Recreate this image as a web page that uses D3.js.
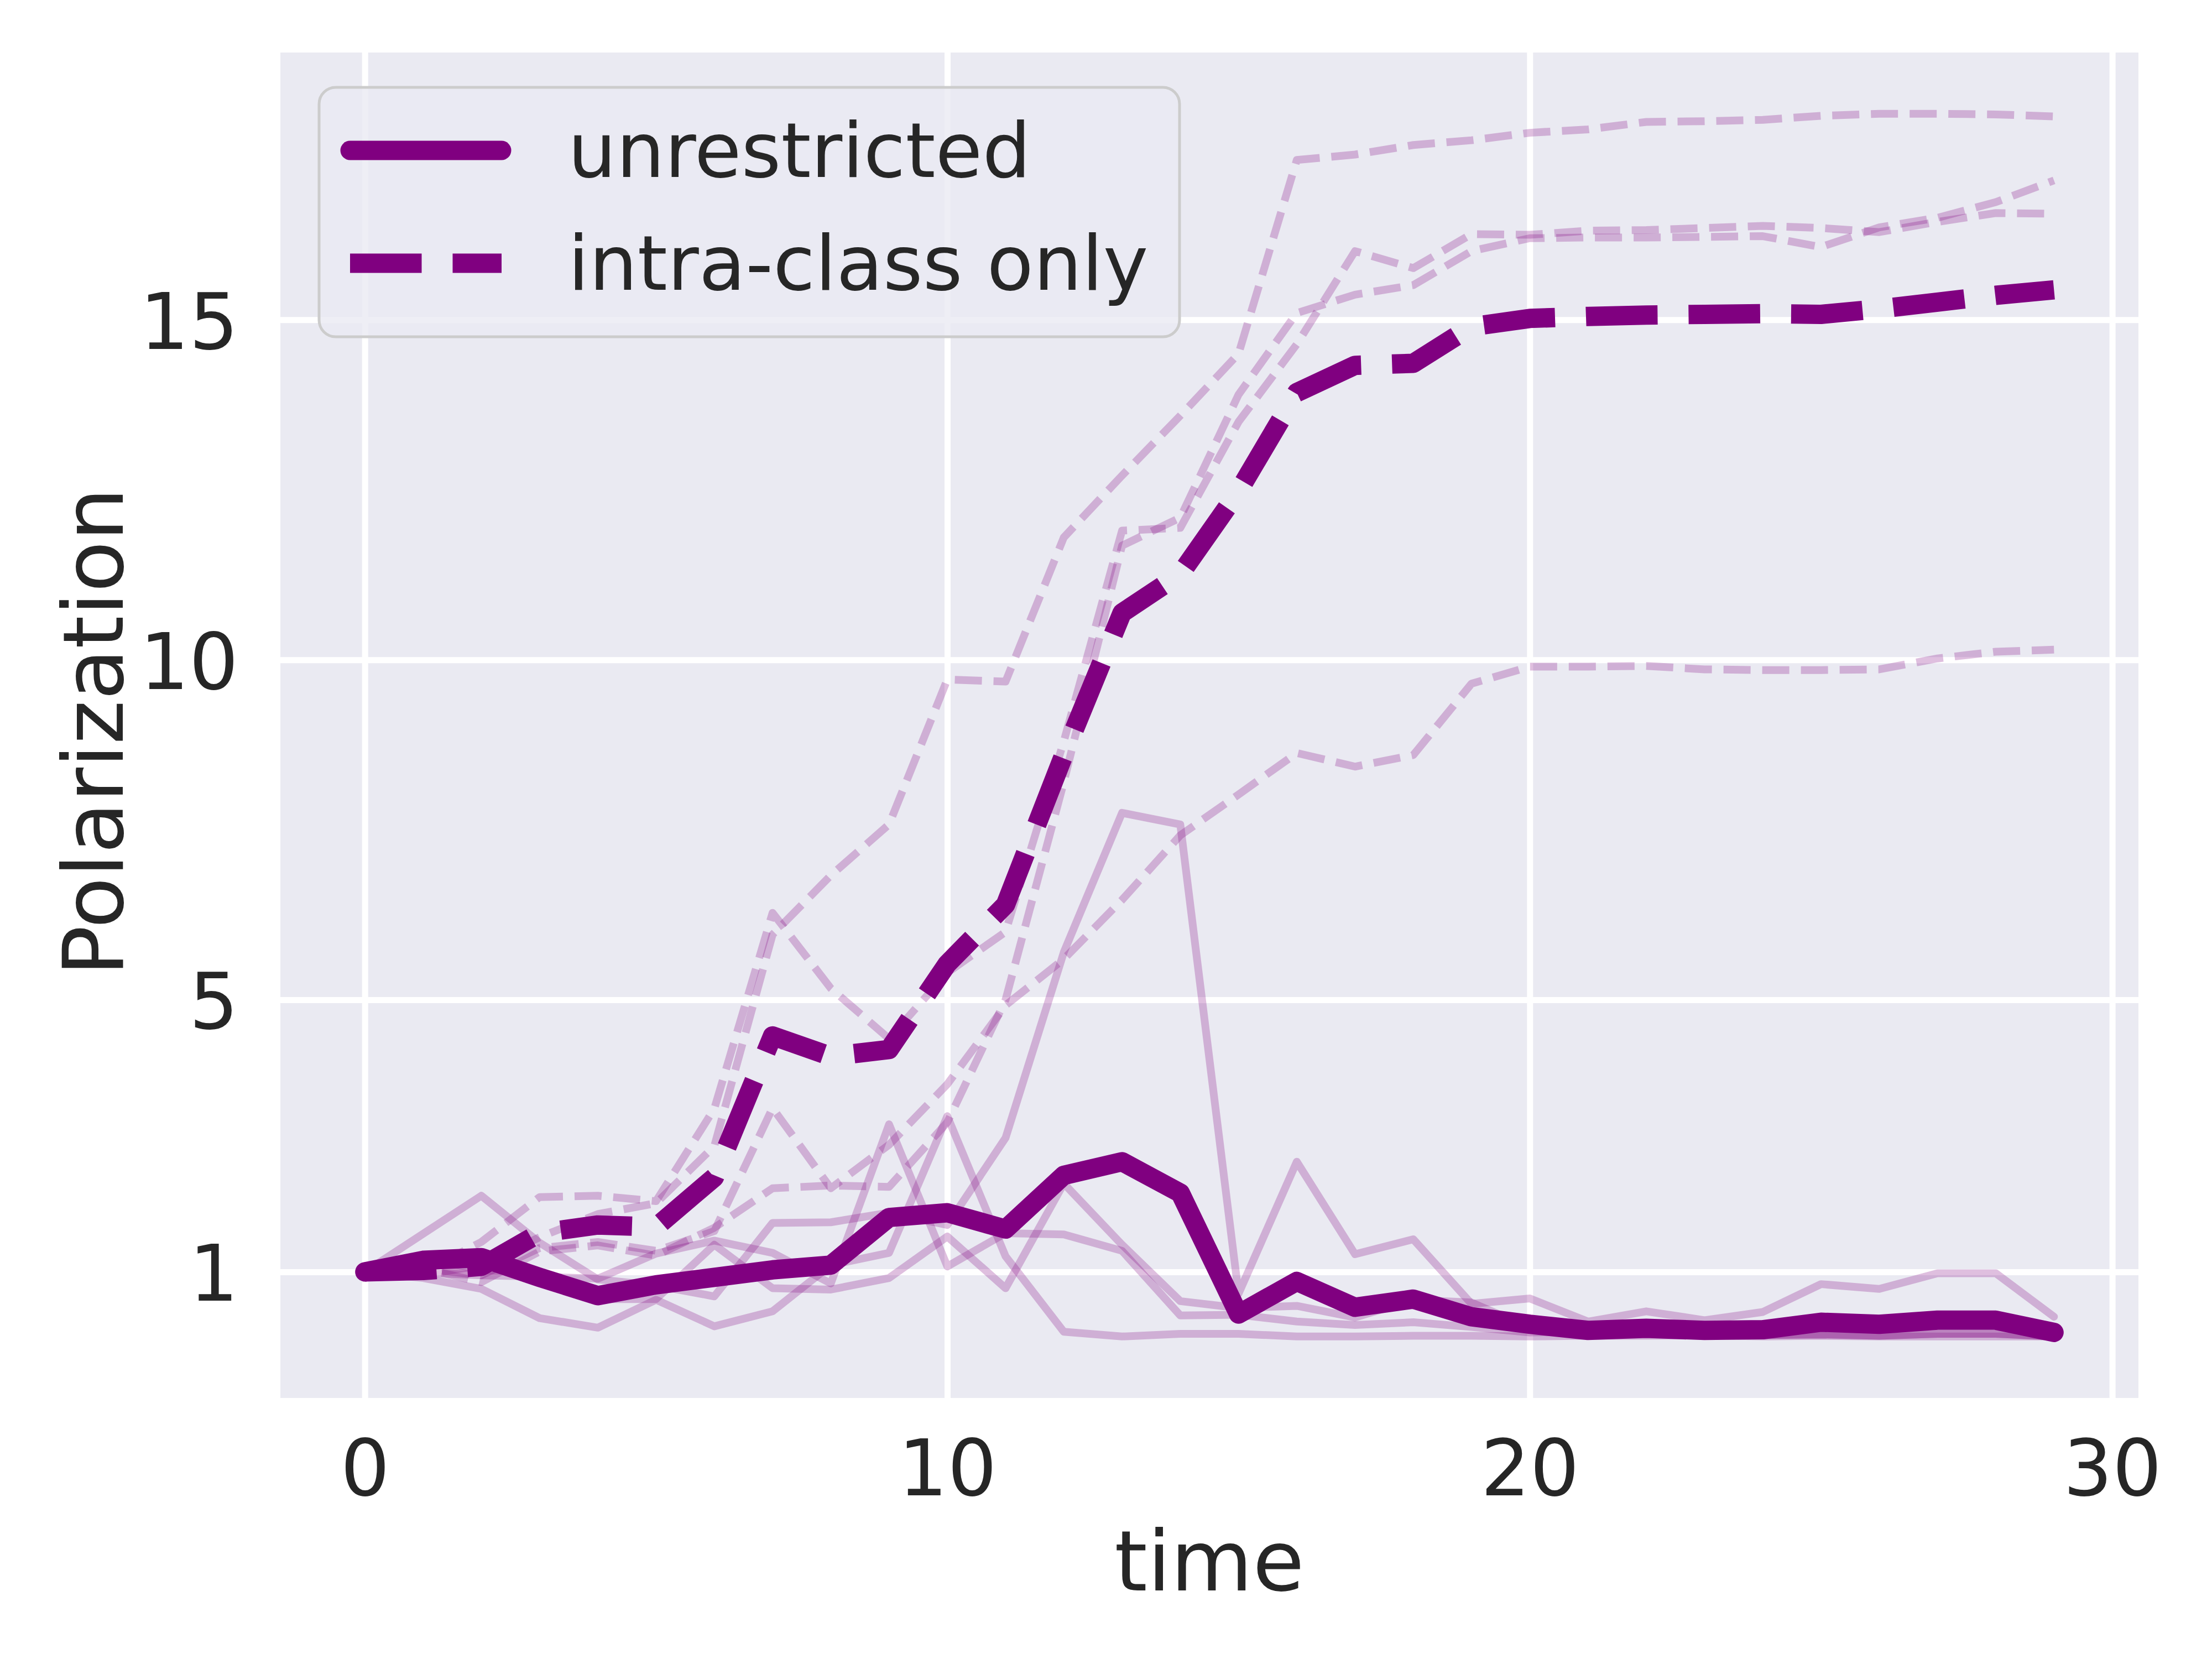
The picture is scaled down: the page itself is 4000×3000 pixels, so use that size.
<!DOCTYPE html>
<html>
<head>
<meta charset="utf-8">
<script src="https://cdn.jsdelivr.net/npm/d3@7"></script>
<style>
  body { margin: 0; background: #ffffff; }
  text { font-family: "DejaVu Sans", sans-serif; fill: #262626; }
</style>
</head>
<body>
<svg id="chart" width="4000" height="3000"></svg>
<script>
var time = [0, 1, 2, 3, 4, 5, 6, 7, 8, 9, 10, 11, 12, 13, 14, 15, 16, 17, 18, 19, 20, 21, 22, 23, 24, 25, 26, 27, 28, 29];

// averaged curves
var unrestricted = [1.00, 1.17, 1.21, 0.92, 0.65, 0.81, 0.92, 1.03, 1.10, 1.80, 1.87, 1.63, 2.42, 2.62, 2.16, 0.38, 0.86, 0.48, 0.60, 0.34, 0.23, 0.14, 0.17, 0.14, 0.15, 0.26, 0.23, 0.29, 0.29, 0.11];
var intraClass = [1.00, 1.02, 1.08, 1.57, 1.69, 1.66, 2.39, 4.47, 4.17, 4.27, 5.53, 6.40, 8.60, 10.69, 11.26, 12.48, 13.93, 14.33, 14.36, 14.90, 15.02, 15.05, 15.07, 15.08, 15.09, 15.08, 15.16, 15.26, 15.36, 15.44];

// single runs, unrestricted
var runsUnrestricted = [
    [1.00, 1.56, 2.12, 1.43, 0.89, 0.80, 0.64, 1.72, 1.73, 1.87, 1.69, 2.97, 5.70, 7.75, 7.58, 0.68, 2.62, 1.26, 1.48, 0.53, 0.61, 0.27, 0.42, 0.29, 0.41, 0.82, 0.75, 0.98, 0.98, 0.34],
    [1.00, 0.91, 0.75, 0.32, 0.18, 0.59, 0.20, 0.42, 1.10, 1.28, 3.29, 1.23, 0.12, 0.05, 0.09, 0.09, 0.05, 0.05, 0.06, 0.06, 0.05, 0.06, 0.06, 0.07, 0.05, 0.06, 0.05, 0.05, 0.05, 0.05],
    [1.00, 0.99, 0.95, 0.93, 0.90, 1.27, 1.46, 1.28, 0.83, 3.17, 1.08, 1.57, 1.55, 1.31, 0.36, 0.37, 0.27, 0.22, 0.26, 0.19, 0.11, 0.12, 0.10, 0.10, 0.07, 0.08, 0.06, 0.09, 0.09, 0.05],
    [1.00, 1.22, 1.02, 1.00, 0.60, 0.60, 1.40, 0.76, 0.74, 0.91, 1.52, 0.76, 2.30, 1.40, 0.57, 0.47, 0.50, 0.33, 0.59, 0.55, 0.18, 0.10, 0.10, 0.10, 0.07, 0.08, 0.06, 0.09, 0.09, 0.05]
];

// single runs, intra-class only
var runsIntraClass = [
    [1.00, 1.00, 1.44, 2.10, 2.12, 2.04, 3.40, 6.28, 5.17, 4.43, 5.40, 6.00, 8.80, 11.90, 11.94, 13.50, 14.64, 16.01, 15.76, 16.26, 16.25, 16.31, 16.32, 16.35, 16.38, 16.35, 16.29, 16.44, 16.57, 16.56],
    [1.00, 0.95, 1.10, 1.51, 1.85, 2.01, 2.85, 5.96, 6.83, 7.58, 9.71, 9.68, 11.80, 12.71, 13.59, 14.50, 17.35, 17.43, 17.57, 17.64, 17.75, 17.80, 17.91, 17.92, 17.94, 18.00, 18.03, 18.03, 18.02, 17.99],
    [1.00, 1.05, 0.85, 1.30, 1.39, 1.24, 1.65, 2.23, 2.27, 2.25, 3.20, 5.00, 8.20, 11.68, 12.09, 13.90, 15.10, 15.37, 15.51, 16.01, 16.20, 16.21, 16.21, 16.22, 16.23, 16.07, 16.36, 16.50, 16.73, 17.05],
    [1.00, 1.05, 0.95, 1.35, 1.44, 1.31, 1.60, 3.41, 2.23, 2.87, 3.76, 4.92, 5.60, 6.47, 7.42, 8.02, 8.63, 8.43, 8.60, 9.65, 9.90, 9.90, 9.91, 9.86, 9.85, 9.85, 9.86, 10.02, 10.12, 10.15]
];

var xTicks = [0, 10, 20, 30];
var yTicks = [1, 5, 10, 15];
var xLimits = [-1.45, 30.45];
var yLimits = [-0.854, 18.93];
var legendLabels = ["unrestricted", "intra-class only"];

var svg = d3.select("#chart"),
    marginLeft = 507,
    marginTop = 95,
    width = 3867 - marginLeft,
    height = 2528 - marginTop,
    purple = "#800080";

var xScale = d3.scaleLinear().domain(xLimits).range([0, width]),
    yScale = d3.scaleLinear().domain(yLimits).range([height, 0]);

var g = svg.append("g")
    .attr("transform", "translate(" + marginLeft + "," + marginTop + ")");

g.append("rect")
    .attr("width", width)
    .attr("height", height)
    .attr("fill", "#eaeaf2");

// grid
g.append("g")
    .attr("class", "grid")
    .attr("transform", "translate(0," + height + ")")
    .call(d3.axisBottom(xScale).tickValues(xTicks).tickSize(-height).tickFormat(""));

g.append("g")
    .attr("class", "grid")
    .call(d3.axisLeft(yScale).tickValues(yTicks).tickSize(-width).tickFormat(""));

g.selectAll(".grid .domain").remove();
g.selectAll(".grid line")
    .attr("stroke", "#ffffff")
    .attr("stroke-width", 11);

// tick labels
var xAxis = g.append("g")
    .attr("transform", "translate(0," + height + ")")
    .call(d3.axisBottom(xScale).tickValues(xTicks).tickSize(0).tickPadding(77));

var yAxis = g.append("g")
    .call(d3.axisLeft(yScale).tickValues(yTicks).tickSize(0).tickPadding(76));

[xAxis, yAxis].forEach(function(a) {
    a.select(".domain").remove();
    a.attr("font-family", null).attr("font-size", null);
    a.selectAll("text")
        .style("font-size", "140px")
        .attr("fill", "#262626");
});
yAxis.selectAll("text").attr("dy", "0.37em");

var line = d3.line()
    .x(function(d, i) { return xScale(time[i]); })
    .y(function(d) { return yScale(d); });

var plot = g.append("g");

plot.selectAll(".run-solid")
    .data(runsUnrestricted)
    .enter().append("path")
    .attr("class", "run-solid")
    .attr("d", line)
    .attr("fill", "none")
    .attr("stroke", purple)
    .attr("stroke-opacity", 0.25)
    .attr("stroke-width", 14)
    .attr("stroke-linejoin", "round")
    .attr("stroke-linecap", "round");

plot.selectAll(".run-dashed")
    .data(runsIntraClass)
    .enter().append("path")
    .attr("class", "run-dashed")
    .attr("d", line)
    .attr("fill", "none")
    .attr("stroke", purple)
    .attr("stroke-opacity", 0.25)
    .attr("stroke-width", 14)
    .attr("stroke-dasharray", "49,21")
    .attr("stroke-linejoin", "round")
    .attr("stroke-linecap", "butt");

plot.append("path")
    .datum(unrestricted)
    .attr("d", line)
    .attr("fill", "none")
    .attr("stroke", purple)
    .attr("stroke-width", 35)
    .attr("stroke-linejoin", "round")
    .attr("stroke-linecap", "round");

plot.append("path")
    .datum(intraClass)
    .attr("d", line)
    .attr("fill", "none")
    .attr("stroke", purple)
    .attr("stroke-width", 35)
    .attr("stroke-dasharray", "129.5,56")
    .attr("stroke-linejoin", "round")
    .attr("stroke-linecap", "butt");

// axis labels
svg.append("text")
    .attr("x", marginLeft + width / 2)
    .attr("y", 2876)
    .attr("text-anchor", "middle")
    .style("font-size", "152px")
    .text("time");

svg.append("text")
    .attr("transform", "translate(222," + (marginTop + height / 2 + 12) + ") rotate(-90)")
    .attr("text-anchor", "middle")
    .style("font-size", "152px")
    .text("Polarization");

// legend
var legend = svg.append("g");

legend.append("rect")
    .attr("x", 577)
    .attr("y", 158)
    .attr("width", 1556)
    .attr("height", 451)
    .attr("rx", 30)
    .attr("fill", "#eaeaf2")
    .attr("fill-opacity", 0.8)
    .attr("stroke", "#cccccc")
    .attr("stroke-width", 5);

var rows = legend.selectAll(".legend-row")
    .data(legendLabels)
    .enter().append("g")
    .attr("class", "legend-row")
    .attr("transform", function(d, i) { return "translate(0," + (272 + i * 204) + ")"; });

rows.append("line")
    .attr("x1", 633)
    .attr("x2", 907)
    .attr("stroke", purple)
    .attr("stroke-width", 35)
    .attr("stroke-linecap", function(d, i) { return i === 0 ? "round" : "butt"; })
    .attr("stroke-dasharray", function(d, i) { return i === 0 ? null : "129.5,56"; });

rows.append("text")
    .attr("x", 1027)
    .attr("y", 48)
    .style("font-size", "138px")
    .text(function(d) { return d; });
</script>
</body>
</html>
